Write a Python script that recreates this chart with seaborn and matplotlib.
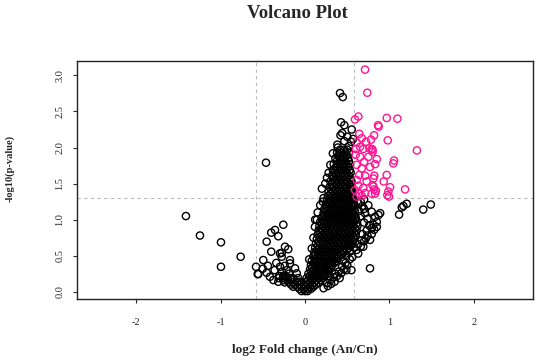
import pandas as pd
import matplotlib.pyplot as plt
import seaborn as sns

# up-regulated genes (pink): (log2 FC, -log10 p)
up_regulated = [
    (0.711, 3.08), (0.738, 2.76), (0.632, 2.43), (0.592, 2.39), (0.865, 2.31), (0.873, 2.29),
    (0.968, 2.41), (1.094, 2.40), (0.643, 2.19), (0.672, 2.13), (0.818, 2.17), (0.782, 2.11),
    (0.723, 2.08), (0.980, 2.10), (0.612, 2.07), (1.325, 1.96), (0.762, 1.99), (0.790, 1.98),
    (0.652, 2.01), (0.604, 1.98), (0.690, 1.98), (0.800, 1.94), (0.800, 1.97), (0.750, 1.87),
    (0.850, 1.84), (0.652, 1.87), (1.046, 1.78), (1.055, 1.82), (0.830, 1.77), (0.612, 1.76),
    (0.672, 1.71), (0.770, 1.73), (0.643, 1.62), (0.711, 1.61), (0.968, 1.62), (0.820, 1.61),
    (0.612, 1.55), (0.730, 1.53), (0.810, 1.57), (0.932, 1.53), (0.632, 1.47), (0.690, 1.44),
    (0.810, 1.46), (1.007, 1.45), (0.800, 1.48), (1.185, 1.42), (0.592, 1.41), (0.643, 1.36),
    (0.711, 1.37), (0.830, 1.36), (0.820, 1.42), (0.840, 1.40), (0.975, 1.34), (0.995, 1.32),
    (0.987, 1.39), (0.612, 1.32), (0.672, 1.33), (0.790, 1.36), (0.600, 1.90), (0.700, 1.80),
]

# dense body of the volcano, row by row: (-log10 p, [log2 FC ...])
core_rows = [
    (0.01, [-0.04, 0.0, 0.03]),
    (0.04, [-0.065, -0.015, 0.035, 0.07]),
    (0.07, [-0.14, -0.09, -0.04, 0.01, 0.06, 0.10]),
    (0.10, [-0.165, -0.115, -0.065, -0.015, 0.035, 0.085, 0.13]),
    (0.13, [-0.24, -0.19, -0.14, -0.09, -0.04, 0.01, 0.06, 0.11, 0.16]),
    (0.16, [-0.255, -0.205, -0.155, 0.035, 0.085, 0.135, 0.185]),
    (0.19, [-0.31, -0.26, -0.21, -0.17, 0.02, 0.07, 0.12, 0.17, 0.21]),
    (0.22, [-0.305, -0.255, 0.055, 0.105, 0.155, 0.205, 0.23]),
    (0.25, [0.04, 0.09, 0.14, 0.19, 0.24]),
    (0.28, [0.075, 0.125, 0.175, 0.225, 0.27]),
    (0.31, [0.06, 0.11, 0.16, 0.21, 0.26, 0.29]),
    (0.34, [0.085, 0.135, 0.185, 0.235, 0.285, 0.31]),
    (0.37, [0.07, 0.12, 0.17, 0.22, 0.27, 0.32]),
    (0.40, [0.105, 0.155, 0.205, 0.255, 0.305, 0.35]),
    (0.43, [0.08, 0.13, 0.18, 0.23, 0.28, 0.33, 0.37]),
    (0.46, [0.115, 0.165, 0.215, 0.265, 0.315, 0.365, 0.39]),
    (0.49, [0.10, 0.15, 0.20, 0.25, 0.30, 0.35, 0.40]),
    (0.52, [0.125, 0.175, 0.225, 0.275, 0.325, 0.375, 0.425, 0.44]),
    (0.55, [0.11, 0.16, 0.21, 0.26, 0.31, 0.36, 0.41, 0.46]),
    (0.58, [0.145, 0.195, 0.245, 0.295, 0.345, 0.395, 0.445, 0.495]),
    (0.61, [0.12, 0.17, 0.22, 0.27, 0.32, 0.37, 0.42, 0.47, 0.52]),
    (0.64, [0.155, 0.205, 0.255, 0.305, 0.355, 0.405, 0.455, 0.505, 0.54]),
    (0.67, [0.13, 0.18, 0.23, 0.28, 0.33, 0.38, 0.43, 0.48, 0.53, 0.56]),
    (0.70, [0.165, 0.215, 0.265, 0.315, 0.365, 0.415, 0.465, 0.515, 0.565]),
    (0.73, [0.14, 0.19, 0.24, 0.29, 0.34, 0.39, 0.44, 0.49, 0.54, 0.58]),
    (0.76, [0.175, 0.225, 0.275, 0.325, 0.375, 0.425, 0.475, 0.525, 0.575]),
    (0.79, [0.15, 0.20, 0.25, 0.30, 0.35, 0.40, 0.45, 0.50, 0.55, 0.60]),
    (0.82, [0.185, 0.235, 0.285, 0.335, 0.385, 0.435, 0.485, 0.535, 0.585]),
    (0.85, [0.16, 0.21, 0.26, 0.31, 0.36, 0.41, 0.46, 0.51, 0.56, 0.61]),
    (0.88, [0.195, 0.245, 0.295, 0.345, 0.395, 0.445, 0.495, 0.545, 0.595]),
    (0.91, [0.17, 0.22, 0.27, 0.32, 0.37, 0.42, 0.47, 0.52, 0.57, 0.62]),
    (0.94, [0.205, 0.255, 0.305, 0.355, 0.405, 0.455, 0.505, 0.555, 0.605]),
    (0.97, [0.18, 0.23, 0.28, 0.33, 0.38, 0.43, 0.48, 0.53, 0.58]),
    (1.00, [0.215, 0.265, 0.315, 0.365, 0.415, 0.465, 0.515, 0.565, 0.60]),
    (1.03, [0.20, 0.25, 0.30, 0.35, 0.40, 0.45, 0.50, 0.55, 0.60]),
    (1.06, [0.235, 0.285, 0.335, 0.385, 0.435, 0.485, 0.535, 0.585]),
    (1.09, [0.22, 0.27, 0.32, 0.37, 0.42, 0.47, 0.52, 0.57]),
    (1.12, [0.255, 0.305, 0.355, 0.405, 0.455, 0.505, 0.555, 0.59]),
    (1.15, [0.23, 0.28, 0.33, 0.38, 0.43, 0.48, 0.53, 0.58]),
    (1.18, [0.265, 0.315, 0.365, 0.415, 0.465, 0.515, 0.565]),
    (1.21, [0.25, 0.30, 0.35, 0.40, 0.45, 0.50, 0.55, 0.58]),
    (1.24, [0.275, 0.325, 0.375, 0.425, 0.475, 0.525, 0.57]),
    (1.27, [0.26, 0.31, 0.36, 0.41, 0.46, 0.51, 0.56]),
    (1.30, [0.295, 0.345, 0.395, 0.445, 0.495, 0.545, 0.57]),
    (1.33, [0.27, 0.32, 0.37, 0.42, 0.47, 0.52, 0.56]),
    (1.36, [0.305, 0.355, 0.405, 0.455, 0.505, 0.555]),
    (1.39, [0.28, 0.33, 0.38, 0.43, 0.48, 0.53, 0.56]),
    (1.42, [0.315, 0.365, 0.415, 0.465, 0.515, 0.55]),
    (1.45, [0.29, 0.34, 0.39, 0.44, 0.49, 0.54]),
    (1.49, [0.325, 0.375, 0.425, 0.475, 0.525, 0.55]),
    (1.53, [0.30, 0.35, 0.40, 0.45, 0.50, 0.55]),
    (1.57, [0.335, 0.385, 0.435, 0.485, 0.535]),
    (1.61, [0.32, 0.37, 0.42, 0.47, 0.52]),
    (1.65, [0.345, 0.395, 0.445, 0.495, 0.54]),
    (1.69, [0.33, 0.38, 0.43, 0.48, 0.53]),
    (1.73, [0.365, 0.415, 0.465, 0.515]),
    (1.77, [0.34, 0.39, 0.44, 0.49, 0.53]),
    (1.81, [0.375, 0.425, 0.475, 0.52]),
    (1.85, [0.36, 0.41, 0.46, 0.51]),
    (1.89, [0.395, 0.445, 0.495]),
    (1.93, [0.38, 0.43, 0.48, 0.52]),
    (1.97, [0.415, 0.465, 0.50]),
]

# scattered non-significant genes on the left side
left_scatter = [
    (-1.41, 1.05), (-1.244, 0.78), (-0.995, 0.686), (-0.762, 0.486), (-0.995, 0.347),
    (-0.58, 0.347), (-0.56, 0.246), (-0.462, 1.79),
    (-0.257, 0.93), (-0.355, 0.857), (-0.40, 0.82), (-0.316, 0.77), (-0.454, 0.695),
    (-0.237, 0.625), (-0.198, 0.59), (-0.276, 0.54), (-0.40, 0.556), (-0.296, 0.533),
    (-0.276, 0.486), (-0.178, 0.44), (-0.494, 0.44), (-0.553, 0.246), (-0.454, 0.264),
    (-0.415, 0.208), (-0.375, 0.163), (-0.316, 0.139), (-0.296, 0.347), (-0.276, 0.278),
    (-0.217, 0.30), (-0.178, 0.394), (-0.118, 0.325), (-0.098, 0.256), (-0.139, 0.186),
    (-0.50, 0.32), (-0.44, 0.36), (-0.36, 0.30), (-0.34, 0.40), (-0.24, 0.36),
    (-0.23, 0.22), (-0.19, 0.25), (-0.08, 0.19), (-0.06, 0.14), (-0.12, 0.10),
]

# scattered non-significant genes on the right side
right_scatter = [
    (0.26, 0.12), (0.30, 0.16), (0.34, 0.20), (0.41, 0.19), (0.28, 0.22), (0.36, 0.25),
    (0.40, 0.28), (0.49, 0.30), (0.55, 0.30), (0.44, 0.35), (0.48, 0.40), (0.53, 0.45),
    (0.53, 0.556), (0.63, 0.53), (0.61, 0.58), (0.66, 0.63), (0.69, 0.625), (0.70, 0.70),
    (0.77, 0.72), (0.74, 0.78), (0.79, 0.80), (0.82, 0.86), (0.85, 0.90), (0.79, 0.88),
    (0.81, 0.93), (0.85, 0.97), (0.83, 1.04), (0.87, 1.065), (0.89, 1.09), (0.79, 1.11),
    (0.70, 1.15), (0.75, 1.20), (0.66, 1.25), (0.70, 1.28), (0.77, 0.325),
    (0.22, 0.05), (0.27, 0.08), (0.31, 0.11), (0.35, 0.14), (0.38, 0.22), (0.43, 0.26),
    (0.46, 0.31), (0.50, 0.37), (0.45, 0.43), (0.56, 0.48), (0.49, 0.50), (0.58, 0.62),
    (0.63, 0.66), (0.67, 0.71), (0.72, 0.74), (0.68, 0.80), (0.73, 0.85), (0.76, 0.92),
    (0.70, 0.96), (0.74, 1.01), (0.66, 1.05), (0.71, 1.09), (0.64, 1.12), (0.68, 1.19),
    (0.63, 1.23),
    (1.114, 1.07), (1.146, 1.17), (1.165, 1.19), (1.205, 1.22), (1.40, 1.14), (1.49, 1.21),
    (0.118, 0.90), (0.12, 1.00), (0.15, 1.10), (0.18, 1.20), (0.22, 1.30), (0.20, 1.43),
    (0.24, 1.50), (0.26, 1.58), (0.28, 1.65), (0.30, 1.76), (0.33, 1.92), (0.10, 0.75),
    (0.08, 0.60), (0.05, 0.45), (0.21, 1.25), (0.14, 1.00),
]

# black genes above the dense body
top_black = [
    (0.415, 2.755), (0.447, 2.70), (0.427, 2.35), (0.466, 2.31), (0.553, 2.25),
    (0.466, 2.09), (0.545, 2.08), (0.387, 2.00), (0.383, 2.04), (0.42, 2.17),
    (0.50, 2.15), (0.44, 2.20), (0.52, 2.02), (0.57, 2.12),
]

fc_cut = 0.585
p_cut = 1.301
x_ticks = [-2, -1, 0, 1, 2]
x_labels = ["-2", "-1", "0", "1", "2"]
y_ticks = [0.0, 0.5, 1.0, 1.5, 2.0, 2.5, 3.0]
y_labels = ["0.0", "0.5", "1.0", "1.5", "2.0", "2.5", "3.0"]

# build the table
black = [(x, y) for y, xs in core_rows for x in xs] + left_scatter + right_scatter + top_black
df = pd.DataFrame(black + up_regulated, columns=["fc", "logp"])
df["group"] = ["ns"] * len(black) + ["up"] * len(up_regulated)

sns.set_style("ticks")
plt.rcParams["font.family"] = ["Liberation Serif", "DejaVu Serif"]
plt.rcParams["axes.unicode_minus"] = False

fig = plt.figure(figsize=(5.36, 3.61), dpi=100)
ax = fig.add_axes([77 / 536, 1 - 299 / 361, 456 / 536, 238 / 361])

ax.axvline(-fc_cut, color="#bbbbbb", lw=0.8, dashes=(3, 3), zorder=1)
ax.axvline(fc_cut, color="#bbbbbb", lw=0.8, dashes=(3, 3), zorder=1)
ax.axhline(p_cut, color="#bbbbbb", lw=0.8, dashes=(3, 3), zorder=1)

for grp, col in [("ns", "black"), ("up", "#ff1493")]:
    sns.scatterplot(data=df[df["group"] == grp], x="fc", y="logp", ax=ax, marker="o", s=27,
                    color=col, edgecolor=col, facecolors="none", linewidth=1.0,
                    legend=False, zorder=2)

ax.set_xlim(-2.70, 2.70)
ax.set_ylim(-0.10, 3.20)
ax.set_xticks(x_ticks)
ax.set_xticklabels(x_labels, fontsize=7.5)
ax.set_yticks(y_ticks)
ax.set_yticklabels(y_labels, fontsize=7.5, rotation=90, va="center")
ax.tick_params(axis="x", length=3, width=0.8, pad=11)
ax.tick_params(axis="y", length=3, width=0.8, pad=6)
for sp in ax.spines.values():
    sp.set_linewidth(1.0)
    sp.set_color("#222222")

ax.set_xlabel("log2 Fold change (An/Cn)", fontsize=9.5, fontweight="bold", labelpad=12)
ax.set_ylabel("-log10(p-value)", fontsize=7.5, fontweight="bold")
ax.yaxis.set_label_coords(-0.136, 0.55)
fig.text(297.5 / 536, 1 - 17.5 / 361, "Volcano Plot", fontsize=13.5, fontweight="bold",
         ha="center", va="baseline")

fig.savefig("out.png", dpi=100)
